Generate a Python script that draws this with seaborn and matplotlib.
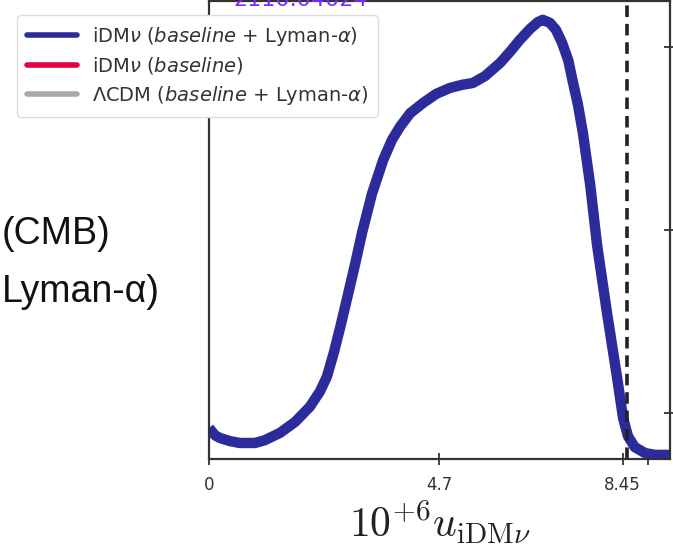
import numpy as np
import pandas as pd
import matplotlib
matplotlib.use("Agg")
import matplotlib.pyplot as plt
import seaborn as sns
from matplotlib.lines import Line2D

# ---- data ----
u_vals = [0.00, 0.12, 0.22, 0.43, 0.63, 0.94, 1.14, 1.45, 1.76, 2.06, 2.27, 2.41, 2.55,
          2.68, 2.82, 2.98, 3.13, 3.33, 3.56, 3.74, 3.90, 4.11, 4.37, 4.64, 4.92, 5.17,
          5.39, 5.64, 5.95, 6.15, 6.35, 6.56, 6.72, 6.82, 6.97, 7.09, 7.21, 7.34,
          7.44, 7.54, 7.64, 7.79, 7.93, 8.13, 8.34, 8.46, 8.56, 8.70, 8.91, 9.11, 9.40]
prob_vals = [0.068, 0.052, 0.046, 0.039, 0.035, 0.035, 0.041, 0.057, 0.081, 0.114, 0.148, 0.180, 0.232,
             0.287, 0.350, 0.423, 0.495, 0.579, 0.653, 0.697, 0.725, 0.755, 0.777, 0.797, 0.810, 0.817,
             0.821, 0.836, 0.865, 0.889, 0.915, 0.939, 0.954, 0.959, 0.952, 0.937, 0.910, 0.871,
             0.821, 0.773, 0.712, 0.598, 0.467, 0.321, 0.177, 0.090, 0.050, 0.026, 0.013, 0.009, 0.009]
limit_95 = 8.54
xtick_vals = [0, 4.7, 8.45]
xtick_labels = ["0", "4.7", "8.45"]
ytick_vals = [0.1, 0.5, 0.9]
legend_labels = [r"iDM$\nu$ ($\mathit{baseline}$ + Lyman-$\alpha$)",
                 r"iDM$\nu$ ($\mathit{baseline}$)",
                 r"$\Lambda$CDM ($\mathit{baseline}$ + Lyman-$\alpha$)"]
legend_colors = ["#2b2b9c", "#e3003c", "#aaaaaa"]

sns.set_style("ticks")
plt.rcParams["font.family"] = ["DejaVu Sans"]

W, H = 673, 548
fig = plt.figure(figsize=(W / 100, H / 100), dpi=100)
ax = fig.add_axes([209 / W, 1 - 459 / H, (670 - 209) / W, (459 - 1) / H])

df = pd.DataFrame({"u": u_vals, "p": prob_vals})
sns.lineplot(data=df, x="u", y="p", ax=ax, color=legend_colors[0], lw=7.5,
             sort=False, estimator=None, solid_capstyle="butt",
             solid_joinstyle="round")
ax.axvline(limit_95, color="#222222", lw=2.6, ls=(0, (3.2, 1.9)))

ax.set_xlim(0, 9.42)
ax.set_ylim(0, 1)
ax.set_xticks(xtick_vals)
ax.set_xticklabels(xtick_labels, fontsize=12, color="#333333")
ax.set_xticks([8.98], minor=True)
ax.tick_params(axis="x", which="both", direction="inout", length=9, width=1.3,
               colors="#333333", pad=8)
ax.set_yticks(ytick_vals)
ax.tick_params(axis="y", which="both", left=False, labelleft=False, right=True,
               direction="inout", length=9, width=1.3, colors="#333333")
for s in ax.spines.values():
    s.set_visible(True)
    s.set_color("#333333")
    s.set_linewidth(1.6)
ax.set_xlabel(r"$10^{+6}u_{\rm iDM\nu}$", fontsize=30, math_fontfamily="cm",
              labelpad=3, color="#222222")
ax.set_ylabel("")

handles = [Line2D([0], [0], color=c, lw=4) for c in legend_colors]
leg = fig.legend(handles, legend_labels, loc="upper left",
                 bbox_to_anchor=(17 / W, 1 - 15 / H), fontsize=14,
                 frameon=True, fancybox=True, shadow=False, framealpha=1,
                 edgecolor="#dddddd", handlelength=2.6, handletextpad=0.75,
                 labelspacing=0.4, borderpad=0.5, borderaxespad=0)
for t in leg.get_texts():
    t.set_color("#333333")

fig.text(2 / W, 1 - 244 / H, "(CMB)", ha="left", va="baseline",
         fontsize=27, family="Liberation Sans", color="#111111")
fig.text(2 / W, 1 - 302 / H, "Lyman-\u03b1)", ha="left", va="baseline",
         fontsize=27, family="Liberation Sans", color="#111111")
fig.text(233 / W, 1 - 6 / H, "2110.04024", ha="left", va="baseline",
         fontsize=16, color="#7b2bff")

fig.savefig("out.png", dpi=100)
